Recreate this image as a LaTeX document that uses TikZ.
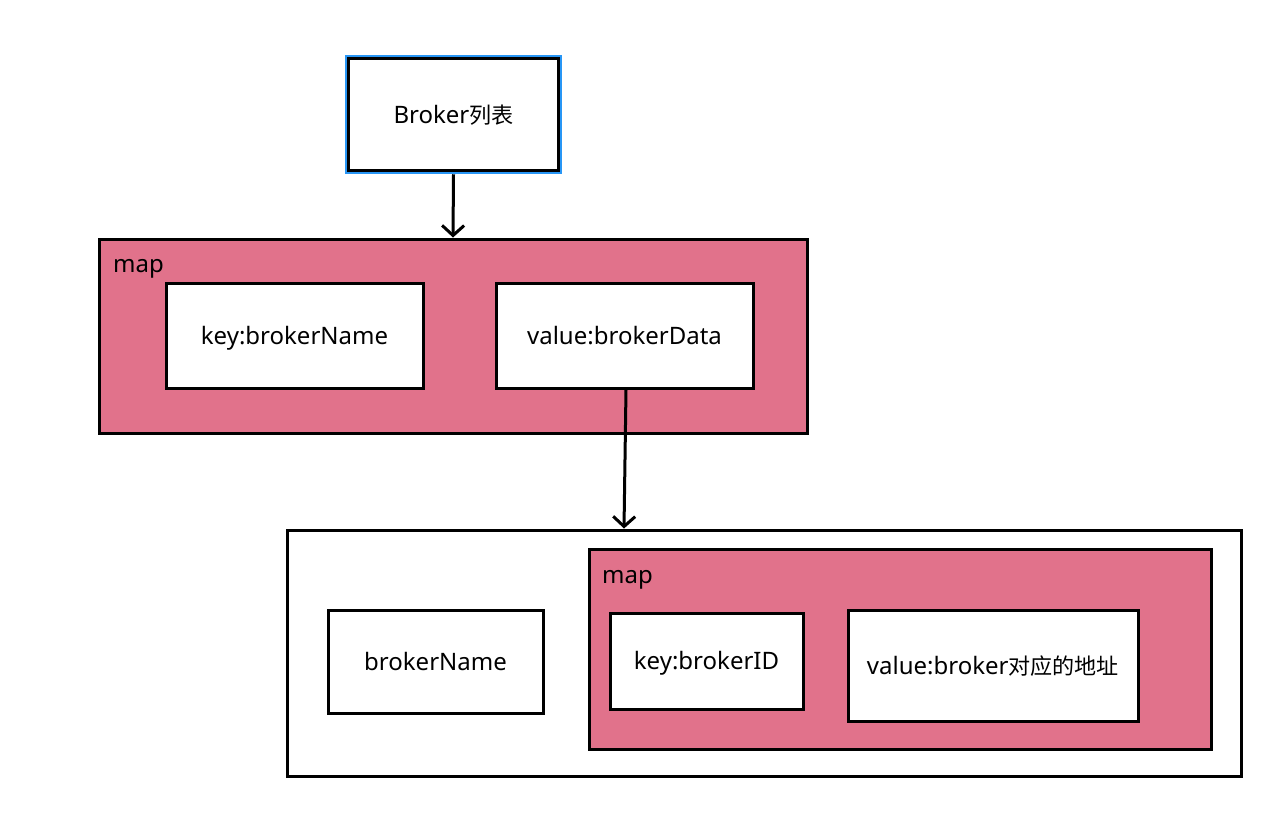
\documentclass[tikz,border=0pt]{standalone}
\usepackage{fontspec}
\setmainfont{Noto Sans}
\newfontfamily\cjk[Scale=0.92]{Noto Sans CJK SC}
\usetikzlibrary{arrows.meta}
\definecolor{mappink}{RGB}{225,114,139}
\definecolor{selblue}{RGB}{40,150,245}
\tikzset{
  x=1pt,y=-1pt,
  box/.style={draw=black,line width=3pt,fill=white,inner sep=0pt,text height=17pt,text depth=0pt,font=\fontsize{24}{28}\selectfont},
  mapbox/.style={draw=black,line width=3pt,fill=mappink,inner sep=0pt},
  outerbox/.style={draw=black,line width=3pt,fill=white,inner sep=0pt},
  maplabel/.style={anchor=west,inner sep=0pt,font=\fontsize{24}{28}\selectfont},
  conn/.style={line width=3pt,-{Straight Barb[length=10pt,width=22pt,line width=3pt]}},
}
\begin{document}
\begin{tikzpicture}
\useasboundingbox (0,0) rectangle (1277,820);
\fill[white] (0,0) rectangle (1277,820);
% top box
\node[draw=selblue,line width=2.5pt,minimum width=215pt,minimum height=117pt,inner sep=0pt] (selring) at (453.5,114.5) {};
\node[box,minimum width=210pt,minimum height=112pt] (list) at (453.5,114.5) {Broker{\cjk 列表}};
% map 1
\node[mapbox,minimum width=708pt,minimum height=194pt] (map1) at (453,336) {};
\node[maplabel] (map1lbl) at (113,269) {map};
\node[box,minimum width=257pt,minimum height=105pt] (key1) at (294.5,335.5) {key:brokerName};
\node[box,minimum width=257pt,minimum height=105pt] (val1) at (624.5,335.5) {value:brokerData};
% big box
\node[outerbox,minimum width=954pt,minimum height=246pt] (brokerdata) at (764,653) {};
\node[box,minimum width=215pt,minimum height=103pt] (bname) at (435.5,661.5) {brokerName};
\node[mapbox,minimum width=622pt,minimum height=200pt] (map2) at (900,649) {};
\node[maplabel] (map2lbl) at (602,580) {map};
\node[box,minimum width=193pt,minimum height=96pt] (key2) at (706.5,661) {key:brokerID};
\node[box,minimum width=290pt,minimum height=111pt] (val2) at (993,665.5) {value:broker{\cjk 对应的地址}};
% connectors
\draw[conn] (selring.south) -- (map1.north);
\draw[conn] ([xshift=1.5pt]val1.south) -- ([xshift=-140pt]brokerdata.north);
\end{tikzpicture}
\end{document}
